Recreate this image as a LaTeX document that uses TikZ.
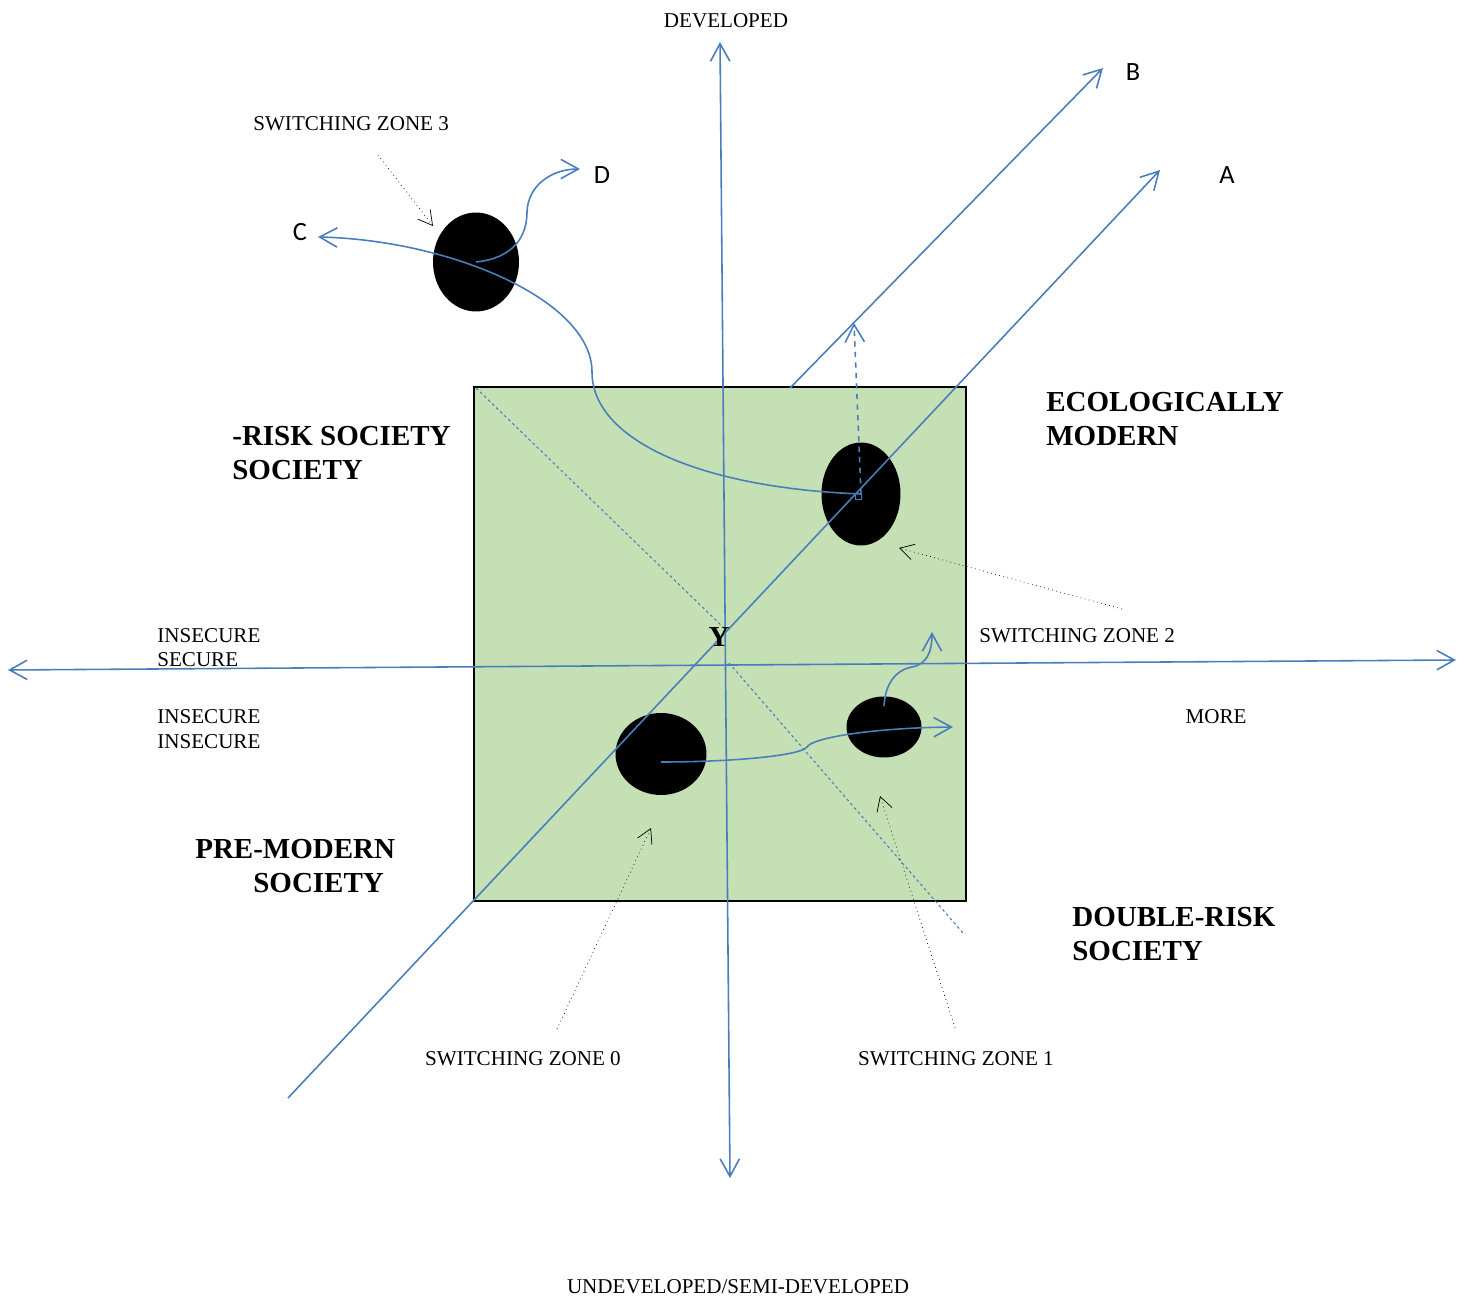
\documentclass[tikz,border=0pt]{standalone}
\usepackage{fontspec}
\setmainfont{Liberation Serif}
\newfontfamily\letterfont{Carlito}
\usepackage{tikz}
\usetikzlibrary{arrows.meta, shapes.geometric}
\definecolor{lineblue}{RGB}{74, 126, 187}
\definecolor{boxgreen}{RGB}{197, 224, 180}

\begin{document}
\begin{tikzpicture}[x=0.02cm, y=-0.02cm,
  >={Straight Barb[length=10pt, width=11pt]},
  blueline/.style={color=lineblue, line width=0.9pt},
  blob/.style={ellipse, fill=black, inner sep=0pt},
  pointer/.style={black, line width=0.4pt, dotted, -{Straight Barb[length=8pt, width=9pt]}},
  small/.style={font=\fontsize{12}{14}\selectfont, inner sep=0pt, anchor=base},
  big/.style={font=\fontsize{16.5}{19}\selectfont\bfseries, inner sep=0pt, anchor=base west},
  letter/.style={font=\letterfont\fontsize{15}{18}\selectfont, inner sep=0pt, anchor=base}]
  \useasboundingbox (0, 0) rectangle (1468, 1300);
  \fill[color=boxgreen] (474, 387) rectangle (966, 901);
  \draw[line width=1.6pt] (474, 387) rectangle (966, 901);

  % zones
  \node[blob, minimum width=1.82cm, minimum height=1.64cm] (zone0) at (661, 754) {};
  \node[blob, minimum width=1.5cm, minimum height=1.22cm] (zone1) at (884, 727) {};
  \node[blob, minimum width=1.58cm, minimum height=2.06cm] (zone2) at (861, 494) {};
  \node[blob, minimum width=1.72cm, minimum height=1.98cm] (zone3) at (476, 262) {};

  % axes
  \coordinate (devEnd) at (720, 42);
  \coordinate (undevEnd) at (730, 1178);
  \coordinate (lessEnd) at (8, 670);
  \coordinate (moreEnd) at (1456, 660);
  \draw[blueline, <->] (undevEnd) to (devEnd);
  \draw[blueline, <->] (lessEnd) to (moreEnd);

  % paths A and B
  \coordinate (aStart) at (288, 1098);
  \coordinate (aEnd) at (1160, 170);
  \coordinate (bStart) at (790, 388);
  \coordinate (bEnd) at (1103, 68);
  \draw[blueline, ->] (aStart) to (aEnd);
  \draw[blueline, ->] (bStart) to (bEnd);

  % dotted diagonal
  \coordinate (diagA) at (476, 388);
  \coordinate (diagB) at (724, 628);
  \coordinate (diagC) at (729, 663);
  \coordinate (diagD) at (963, 933);
  \draw[color=lineblue, line width=0.6pt, dash pattern=on 1.6pt off 1.6pt] (diagA) to (diagB);
  \draw[color=lineblue, line width=0.6pt, dash pattern=on 1.6pt off 1.6pt] (diagC) to (diagD);

  % switching curves
  \coordinate (upEnd) at (854, 323);
  \coordinate (cEnd) at (318, 237);
  \coordinate (dEnd) at (580, 169);
  \coordinate (rightEnd) at (953, 727);
  \coordinate (riseEnd) at (932, 632);
  \draw[blueline, dashed, ->] (zone2.center) to (upEnd);
  \draw[color=lineblue, line width=0.5pt] ([shift={(-3pt,-3pt)}]zone2.center) rectangle ([shift={(0.5pt,0.5pt)}]zone2.center);
  \draw[blueline, ->] (zone2.center) .. controls (700, 488) and (592, 440) .. (592, 372)
    .. controls (592, 300) and (450, 240) .. (cEnd);
  \draw[blueline, ->] (zone3.center) .. controls (515, 258) and (527, 235) .. (527, 212)
    .. controls (528, 185) and (552, 169) .. (dEnd);
  \draw[blueline, ->] ([yshift=-0.16cm]zone0.center) .. controls (730, 762) and (800, 756) .. (807, 747)
    .. controls (812, 738) and (870, 728) .. (rightEnd);
  \draw[blueline, ->] ([yshift=-0.2cm]zone1.north) .. controls (885, 685) and (895, 670) .. (912, 667)
    .. controls (928, 664) and (932, 650) .. (riseEnd);

  % pointers to the zones
  \coordinate (p0) at (557, 1029);
  \coordinate (p1) at (955, 1028);
  \coordinate (p2) at (1122, 609);
  \coordinate (p3) at (378, 155);
  \draw[pointer] (p0) to (651, 828);
  \draw[pointer] (p1) to (880, 796);
  \draw[pointer] (p2) to (899, 548);
  \draw[pointer] (p3) to (433, 226);

  % labels
  \node[small] (developed) at (726, 28) {DEVELOPED};
  \node[small] (undeveloped) at (738, 1293) {UNDEVELOPED/SEMI-DEVELOPED};
  \node[small, anchor=base west] (zone3text) at (253, 131) {SWITCHING ZONE 3};
  \node[small, anchor=base west] (zone2text) at (979, 643) {SWITCHING ZONE 2};
  \node[small] (zone0text) at (523, 1065) {SWITCHING ZONE 0};
  \node[small] (zone1text) at (956, 1065) {SWITCHING ZONE 1};
  \node[small, anchor=base west] (insecure1) at (157, 643) {INSECURE};
  \node[small, anchor=base west] (secure) at (157, 667) {SECURE};
  \node[small, anchor=base west] (insecure2) at (157, 724) {INSECURE};
  \node[small, anchor=base west] (insecure3) at (157, 748) {INSECURE};
  \node[small] (more) at (1216, 724) {MORE};
  \node[big, anchor=base] (origin) at (719, 647) {Y};
  \node[big] (risk1) at (232, 446) {-RISK SOCIETY};
  \node[big] (risk2) at (232, 480) {SOCIETY};
  \node[big] (eco1) at (1046, 412) {ECOLOGICALLY};
  \node[big] (eco2) at (1046, 446) {MODERN};
  \node[big] (pre1) at (195, 858) {PRE-MODERN};
  \node[big] (pre2) at (253, 892) {SOCIETY};
  \node[big] (double1) at (1072, 926) {DOUBLE-RISK};
  \node[big] (double2) at (1072, 960) {SOCIETY};
  \node[letter] (labelA) at (1227, 184) {A};
  \node[letter] (labelB) at (1133, 81) {B};
  \node[letter] (labelC) at (300, 241) {C};
  \node[letter] (labelD) at (602, 184) {D};
\end{tikzpicture}
\end{document}
